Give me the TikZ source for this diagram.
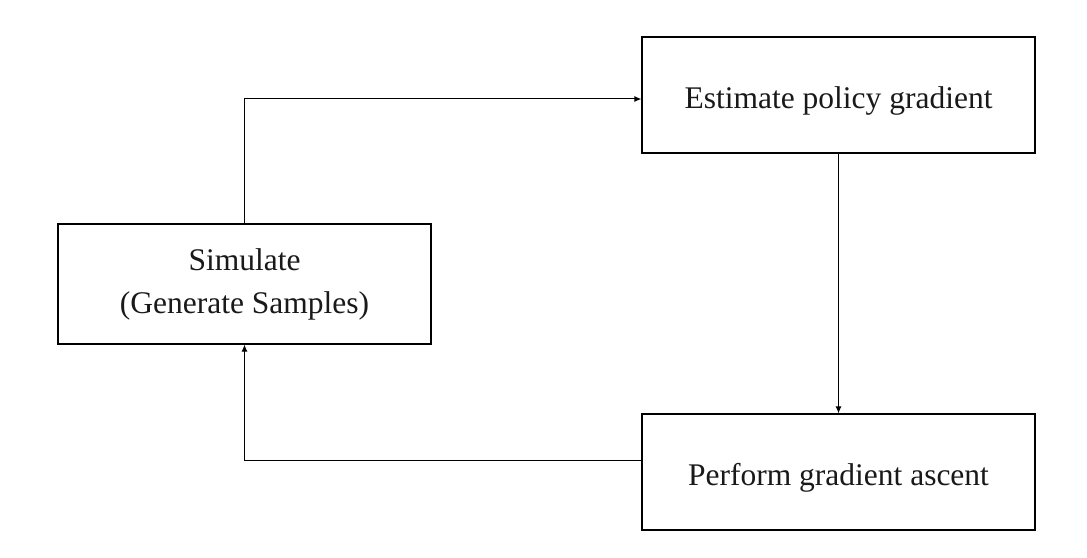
\documentclass[tikz,border=0pt]{standalone}
\usepackage{fontspec}
\setmainfont{Liberation Serif}
\usetikzlibrary{calc,arrows.meta}
\begin{document}
\begin{tikzpicture}[x=1bp,y=-1bp,
  box/.style={draw=black,line width=1.3bp,rectangle,inner sep=0pt,align=center,
    font=\fontsize{31.5bp}{43bp}\selectfont,text=black!90},
  onebox/.style={box,minimum width=393bp,minimum height=116bp,text height=27bp,text depth=0bp},
  arr/.style={draw=black,line width=1bp,-{Latex[length=7bp,width=6bp]}}]
\useasboundingbox[fill=white] (0,0) rectangle (1087,558);
\node[box,minimum width=373bp,minimum height=120bp] (sim) at (244.5,284) {Simulate\\(Generate Samples)};
\node[onebox] (est) at (838.5,95) {Estimate policy gradient};
\node[onebox] (perf) at (838.5,472) {Perform gradient ascent};
\coordinate (a) at ($(est.west)+(0,4)$);
\coordinate (b) at ($(perf.west)+(0,-12)$);
\draw[arr] (sim.north) |- (a);
\draw[arr] (est.south) -- (perf.north);
\draw[arr] (b) -| (sim.south);
\end{tikzpicture}
\end{document}
